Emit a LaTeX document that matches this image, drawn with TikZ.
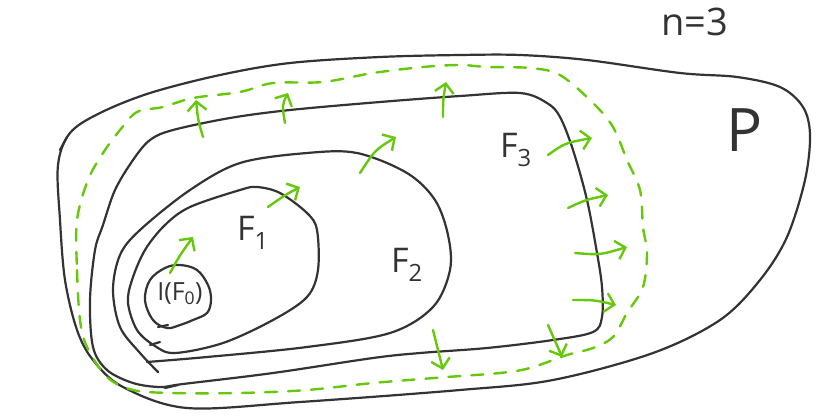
\documentclass[tikz,border=0pt]{standalone}
\usepackage{fontspec}
\setsansfont{Open Sans}
\usetikzlibrary{arrows.meta}
\definecolor{ink}{HTML}{333333}
\definecolor{grn}{RGB}{102,200,10}
\tikzset{
  curve/.style={draw=ink, line width=2.2pt, line cap=round, line join=round},
  dashcurve/.style={draw=grn, line width=2.4pt, line cap=round, dash pattern=on 12pt off 11pt},
  garrow/.style={draw=grn, line width=2.4pt, line cap=round,
    -{Straight Barb[length=9pt,width=19pt,line width=2.4pt]}},
  lbl/.style={text=ink, font=\sffamily\fontsize{34}{36}\selectfont, inner sep=0pt},
}
\begin{document}
\begin{tikzpicture}[x=1pt,y=-1pt]
\useasboundingbox (0,0) rectangle (832,418);
% P outer
\draw[curve] plot[smooth cycle, tension=0.55] coordinates {
 (70,133) (100,113) (150,93) (220,75) (290,63) (380,57) (460,55) (520,55)
 (587,60) (680,73) (737,77) (780,87) (803,107) (810,135) (805,180) (787,237)
 (760,280) (720,320) (653,353) (553,380) (460,390) (300,402) (187,408)
 (123,387) (93,360) (77,330) (65,280) (60,220) (58,165)};
\draw[curve] (60,150) -- (67,137);
% dashed green
\draw[dashcurve] plot[smooth cycle, tension=0.55] coordinates {
 (77,220) (77,270) (80,320) (87,347) (107,377) (133,390) (173,393) (240,393)
 (307,390) (373,383) (447,377) (500,373) (530,368) (567,355) (593,348)
 (613,337) (627,313) (643,287) (647,253) (643,227) (640,190) (627,160)
 (613,127) (593,103) (560,75) (530,68) (487,67) (460,65) (423,67) (373,73)
 (323,82) (273,83) (240,92) (193,98) (163,107) (137,112) (120,130) (103,153)
 (88,180)};
% F3
\draw[curve] plot[smooth cycle, tension=0.55] coordinates {
 (160,387) (133,383) (107,370) (93,347) (90,300) (95,250) (103,225) (115,190)
 (133,160) (150,140) (173,130) (230,118) (290,110) (380,102) (460,96) (520,93)
 (547,103) (560,117) (573,150) (587,200) (597,253) (602,287) (602,317)
 (593,332) (553,340) (487,348) (420,353) (373,358) (273,373) (183,384)};
\draw[curve] (165,388) -- (178,385);
% F2
\draw[curve] plot[smooth, tension=0.55] coordinates {
 (158,372) (140,353) (120,327) (113,290) (120,255) (140,230) (190,190)
 (240,163) (307,153) (357,153) (407,173) (435,200) (448,235) (450,270)
 (433,307) (390,333) (307,347) (207,357) (147,362)};
% F1
\draw[curve] plot[smooth cycle, tension=0.55] coordinates {
 (190,207) (165,225) (145,250) (132,280) (128,303) (137,330) (155,346)
 (175,353) (223,343) (273,320) (307,297) (318,270) (317,230) (307,213)
 (280,193) (257,187) (240,190)};
\draw[curve] (150,345) -- (160,342);
% I(F0)
\draw[curve] plot[smooth cycle, tension=0.6] coordinates {
 (145,300) (150,280) (165,268) (180,265) (197,270) (208,285) (211,300)
 (207,313) (193,320) (180,325) (167,328) (153,320)};
\draw[curve] (158,327) -- (168,325);
% labels
\node[lbl] (lF1) at (253,233) {F\textsubscript{1}};
\node[lbl] (lF2) at (407,265) {F\textsubscript{2}};
\node[lbl] (lF3) at (516,150) {F\textsubscript{3}};
\node[lbl, font=\sffamily\fontsize{38}{40}\selectfont] (ln) at (695,22) {n=3};
\node[lbl, font=\sffamily\fontsize{60}{62}\selectfont] (lP) at (745,130) {P};
\node[lbl, font=\sffamily\fontsize{25}{27}\selectfont] (lI) at (180,294) {I(F\textsubscript{0})};
% arrows
\draw[garrow] (170,273) .. controls (180,255) .. (193,237);
\draw[garrow] (268,207) .. controls (285,195) .. (300,187);
\draw[garrow] (360,173) .. controls (375,150) .. (396,137);
\draw[garrow] (203,137) .. controls (198,120) .. (196,100);
\draw[garrow] (285,123) .. controls (282,105) .. (288,93);
\draw[garrow] (443,117) .. controls (443,100) .. (446,82);
\draw[garrow] (548,155) .. controls (565,143) .. (592,138);
\draw[garrow] (568,208) .. controls (585,200) .. (608,195);
\draw[garrow] (575,253) .. controls (600,255) .. (627,247);
\draw[garrow] (573,300) .. controls (595,300) .. (616,305);
\draw[garrow] (548,325) .. controls (555,340) .. (562,357);
\draw[garrow] (433,330) .. controls (438,350) .. (443,370);
\end{tikzpicture}
\end{document}
